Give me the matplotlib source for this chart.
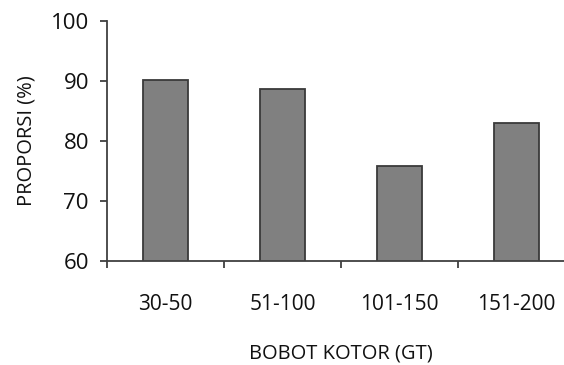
import matplotlib.pyplot as plt
import numpy as np

plt.rcParams['font.family'] = ['Open Sans', 'DejaVu Sans']

categories = ['30-50', '51-100', '101-150', '151-200']
proporsi = [90.1, 88.7, 75.8, 83.0]
y_ticks = [60, 70, 80, 90, 100]

fig = plt.figure(figsize=(5.64, 3.65), dpi=100)
ax = fig.add_axes([0.1897, 0.285, 0.8298, 0.6575])

x = np.arange(len(categories))
ax.bar(x, proporsi, width=0.39, color='#808080', edgecolor='#3a3a3a', linewidth=1.3, zorder=2)

ax.set_xlim(-0.5, len(categories) - 0.5)
ax.set_ylim(60, 100)
ax.set_yticks(y_ticks)

# boundary ticks as major, category names on minor ticks
ax.set_xticks(np.arange(-0.5, len(categories), 1.0))
ax.set_xticklabels([])
ax.set_xticks(x, minor=True)
ax.set_xticklabels(categories, minor=True)

for s in ['top', 'right']:
    ax.spines[s].set_visible(False)
for s in ['left', 'bottom']:
    ax.spines[s].set_color('#404040')
    ax.spines[s].set_linewidth(1.3)

ax.tick_params(axis='y', direction='out', length=5, width=1.3, color='#404040',
               labelsize=16, labelcolor='#111111', pad=8)
ax.tick_params(axis='x', which='major', direction='out', length=5, width=1.3, color='#404040')
ax.tick_params(axis='x', which='minor', length=0, labelsize=15, labelcolor='#111111', pad=24)

ax.set_ylabel('PROPORSI (%)', fontsize=14.5, color='#111111', labelpad=10)
ax.set_xlabel('BOBOT KOTOR (GT)', fontsize=14.5, color='#111111', labelpad=20)

fig.savefig('out.png', dpi=100)
